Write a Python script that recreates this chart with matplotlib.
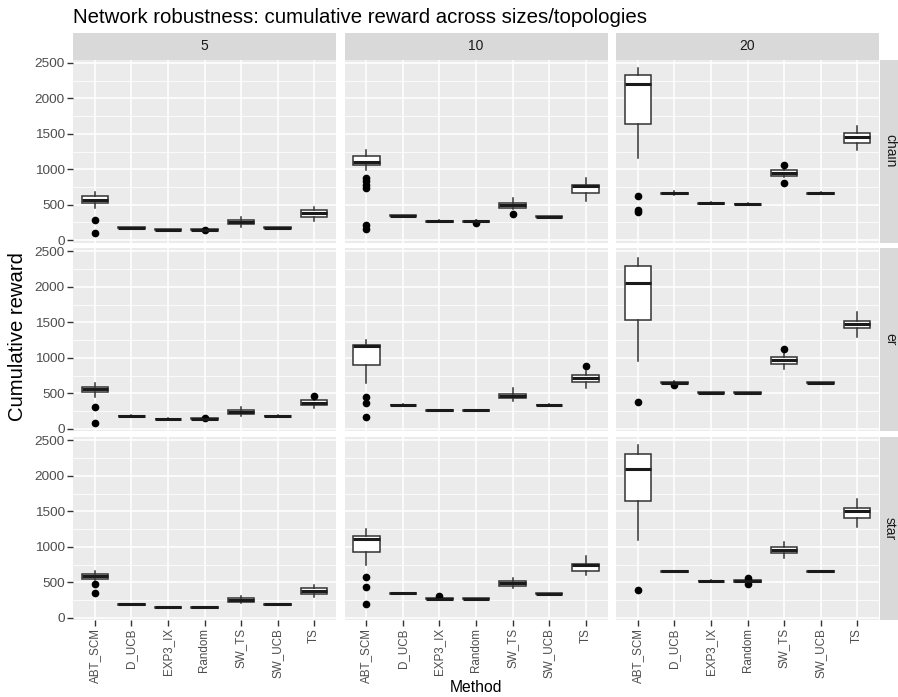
import matplotlib
matplotlib.use("Agg")
import matplotlib.pyplot as plt
from matplotlib.ticker import MultipleLocator

# facet grid of boxplots, ggplot-like look

plt.rcParams['font.family'] = ['Liberation Sans', 'DejaVu Sans']

methods = ['ABT_SCM', 'D_UCB', 'EXP3_IX', 'Random', 'SW_TS', 'SW_UCB', 'TS']
sizes = ['5', '10', '20']
topologies = ['chain', 'er', 'star']

# box stats, [topology][size][method]
q1 = [
    [[526, 168, 141, 144, 226, 168, 329], [1062, 343, 263, 263, 456, 329, 667], [1636, 657, 516, 507, 912, 657, 1377]],
    [[519, 173, 132, 137, 212, 173, 335], [901, 330, 254, 254, 429, 330, 660], [1533, 645, 503, 503, 915, 640, 1415]],
    [[545, 182, 140, 140, 221, 182, 329], [931, 338, 263, 263, 442, 333, 663], [1645, 647, 512, 505, 917, 647, 1410]],
]
med = [
    [[573, 174, 146, 150, 254, 174, 385], [1109, 348, 268, 268, 494, 334, 761], [2204, 663, 522, 512, 949, 663, 1457]],
    [[557, 179, 137, 142, 240, 179, 368], [1160, 335, 259, 259, 467, 335, 717], [2052, 651, 509, 509, 967, 646, 1472]],
    [[587, 188, 146, 146, 249, 188, 381], [1109, 343, 268, 268, 484, 338, 738], [2101, 653, 517, 520, 959, 653, 1499]],
]
q3 = [
    [[620, 180, 151, 155, 282, 180, 423], [1180, 353, 273, 273, 526, 339, 780], [2322, 669, 528, 517, 987, 669, 1513]],
    [[594, 185, 142, 147, 264, 185, 401], [1184, 340, 264, 264, 495, 340, 755], [2292, 657, 515, 515, 1005, 652, 1524]],
    [[611, 194, 152, 152, 277, 194, 414], [1156, 348, 273, 273, 517, 343, 761], [2312, 659, 522, 535, 996, 659, 1551]],
]
lo = [
    [[456, 162, 136, 139, 188, 162, 273], [996, 338, 258, 258, 442, 324, 550], [1161, 640, 505, 502, 890, 650, 1269]],
    [[453, 168, 128, 132, 179, 168, 292], [646, 325, 249, 249, 396, 325, 575], [953, 640, 498, 498, 835, 635, 1297]],
    [[526, 176, 135, 135, 207, 176, 291], [747, 333, 258, 258, 418, 328, 606], [1090, 641, 507, 498, 841, 641, 1278]],
]
hi = [
    [[677, 186, 156, 160, 329, 186, 470], [1269, 358, 278, 278, 597, 344, 870], [2430, 690, 535, 522, 1000, 676, 1607]],
    [[651, 190, 146, 152, 307, 190, 430], [1255, 345, 269, 269, 575, 345, 811], [2406, 672, 520, 520, 1071, 657, 1642]],
    [[658, 200, 157, 157, 310, 200, 456], [1250, 353, 278, 278, 564, 348, 865], [2430, 665, 527, 545, 1062, 665, 1673]],
]
outliers = {
    ('chain', '5', 'ABT_SCM'): [282, 103],
    ('chain', '5', 'Random'): [141],
    ('chain', '10', 'ABT_SCM'): [880, 832, 785, 740, 221, 160],
    ('chain', '10', 'Random'): [244],
    ('chain', '10', 'SW_TS'): [371],
    ('chain', '20', 'ABT_SCM'): [620, 432, 395],
    ('chain', '20', 'SW_TS'): [1062, 813],
    ('er', '5', 'ABT_SCM'): [311, 85],
    ('er', '5', 'Random'): [151],
    ('er', '5', 'TS'): [467],
    ('er', '10', 'ABT_SCM'): [453, 358, 170],
    ('er', '10', 'TS'): [891],
    ('er', '20', 'ABT_SCM'): [377],
    ('er', '20', 'D_UCB'): [613],
    ('er', '20', 'SW_TS'): [1118],
    ('star', '5', 'ABT_SCM'): [479, 348],
    ('star', '10', 'ABT_SCM'): [573, 432, 188],
    ('star', '10', 'EXP3_IX'): [306],
    ('star', '20', 'ABT_SCM'): [395],
    ('star', '20', 'Random'): [559, 479],
}

W, H = 898, 697
fig = plt.figure(figsize=(W / 100, H / 100), dpi=100)


def px(x0, y0, w, h):
    return [x0 / W, 1 - (y0 + h) / H, w / W, h / H]


col_x = [73, 344.5, 616]
row_y = [59.5, 248, 437]
pw, ph = 263, 183

# shared y scale with 5% expansion like ggplot
allv = [v for a in (lo, hi) for r in a for c in r for v in c]
allv += [v for f in outliers.values() for v in f]
vmin, vmax = min(allv), max(allv)
pad = 0.05 * (vmax - vmin)

for r, topo in enumerate(topologies):
    for c, size in enumerate(sizes):
        ax = fig.add_axes(px(col_x[c], row_y[r], pw, ph))
        ax.set_facecolor('#EBEBEB')
        stats = []
        for i, m in enumerate(methods):
            stats.append(dict(med=med[r][c][i], q1=q1[r][c][i], q3=q3[r][c][i],
                              whislo=lo[r][c][i], whishi=hi[r][c][i],
                              fliers=outliers.get((topo, size, m), []), label=m))
        ax.bxp(stats, positions=range(1, 8), widths=0.72, patch_artist=True,
               showcaps=False, manage_ticks=False,
               boxprops=dict(facecolor='white', edgecolor='#333333', linewidth=1.1),
               whiskerprops=dict(color='#333333', linewidth=1.1),
               medianprops=dict(color='#1A1A1A', linewidth=2.2, solid_capstyle='butt'),
               flierprops=dict(marker='o', markerfacecolor='black',
                               markeredgecolor='black', markersize=4.5))
        ax.set_xlim(0.4, 7.6)
        ax.set_ylim(vmin - pad, vmax + pad)
        ax.set_xticks(range(1, 8))
        ax.yaxis.set_major_locator(MultipleLocator(500))
        ax.yaxis.set_minor_locator(MultipleLocator(250))
        ax.grid(which='major', color='white', linewidth=1.1)
        ax.grid(which='minor', axis='y', color='white', linewidth=0.55)
        ax.set_axisbelow(True)
        for s in ax.spines.values():
            s.set_visible(False)
        ax.tick_params(which='minor', length=0)
        ax.tick_params(which='major', length=4, width=1, color='#333333', pad=2)
        if c == 0:
            ax.tick_params(axis='y', labelsize=9.7, labelcolor='#4D4D4D')
        else:
            ax.tick_params(axis='y', length=0, labelleft=False)
        if r == 2:
            ax.set_xticklabels(methods, rotation=90, fontsize=8.4, color='#4D4D4D')
        else:
            ax.tick_params(axis='x', length=0, labelbottom=False)

# strips
for c, size in enumerate(sizes):
    sax = fig.add_axes(px(col_x[c], 33, pw, 26.5))
    sax.set_facecolor('#D9D9D9')
    sax.set_xticks([]); sax.set_yticks([])
    for s in sax.spines.values():
        s.set_visible(False)
    sax.text(0.5, 0.5, size, ha='center', va='center', fontsize=10, color='#1A1A1A',
             transform=sax.transAxes)

for r, topo in enumerate(topologies):
    sax = fig.add_axes(px(879.5, row_y[r], 22, ph))
    sax.set_facecolor('#D9D9D9')
    sax.set_xticks([]); sax.set_yticks([])
    for s in sax.spines.values():
        s.set_visible(False)
    sax.text(10.5 / 22, 0.5, topo, ha='center', va='center', rotation=-90, fontsize=10,
             color='#1A1A1A', transform=sax.transAxes)

fig.text(73 / W, 1 - 22.7 / H, 'Network robustness: cumulative reward across sizes/topologies',
         fontsize=14.7, va='baseline', ha='left')
fig.text(18 / W, 1 - 337 / H, 'Cumulative reward', rotation=90, va='center', ha='center',
         fontsize=14.6)
fig.text(476 / W, 1 - 692 / H, 'Method', ha='center', va='baseline', fontsize=11.3)

fig.savefig('out.png', dpi=100)
